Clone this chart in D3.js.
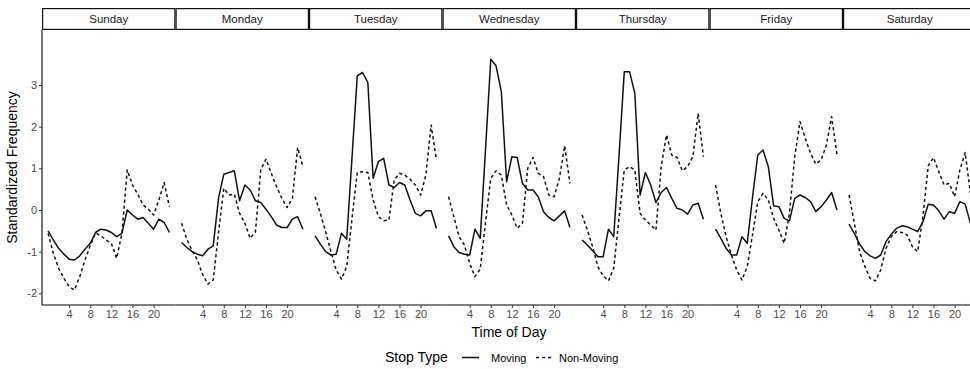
<!DOCTYPE html>
<html>
<head>
<meta charset="utf-8">
<script src="https://cdn.jsdelivr.net/npm/d3@7/dist/d3.min.js"></script>
<style>
  html, body { margin: 0; padding: 0; background: #fff; }
  svg { display: block; font-family: "Liberation Sans", Arial, Helvetica, sans-serif; }
</style>
</head>
<body>
<svg id="chart" width="970" height="369"></svg>
<script>
// ---- data ----
const days = ["Sunday", "Monday", "Tuesday", "Wednesday", "Thursday", "Friday", "Saturday"];
const hours = d3.range(0, 24);
const xTicks = [4, 8, 12, 16, 20];
const yTicks = [-2, -1, 0, 1, 2, 3];
const stopTypes = ["Moving", "Non-Moving"];

const sundayMoving    = [-0.5, -0.72, -0.92, -1.06, -1.18, -1.2, -1.1, -0.94, -0.8, -0.54, -0.46, -0.48, -0.54, -0.64, -0.56, 0.0, -0.12, -0.22, -0.18, -0.32, -0.46, -0.22, -0.3, -0.54];
const sundayNonMoving = [-0.56, -1.04, -1.4, -1.64, -1.84, -1.92, -1.6, -1.2, -0.85, -0.55, -0.62, -0.72, -0.8, -1.16, -0.56, 0.96, 0.6, 0.38, 0.12, 0.02, -0.12, 0.24, 0.66, 0.08];
const mondayMoving    = [-0.78, -0.9, -1.0, -1.06, -1.1, -0.94, -0.86, 0.28, 0.86, 0.9, 0.94, 0.22, 0.6, 0.48, 0.22, 0.18, 0.02, -0.16, -0.36, -0.42, -0.42, -0.22, -0.16, -0.46];
const mondayNonMoving = [-0.32, -0.7, -0.98, -1.2, -1.55, -1.78, -1.68, -0.55, 0.52, 0.36, 0.38, -0.08, -0.32, -0.68, -0.52, 0.96, 1.22, 0.88, 0.56, 0.28, 0.06, 0.28, 1.5, 1.04];
const tuesdayMoving    = [-0.62, -0.82, -1.0, -1.08, -1.06, -0.56, -0.7, 1.26, 3.22, 3.3, 3.06, 0.76, 1.16, 1.24, 0.6, 0.54, 0.66, 0.6, 0.24, -0.08, -0.14, -0.02, -0.02, -0.44];
const tuesdayNonMoving = [0.32, -0.08, -0.52, -1.0, -1.44, -1.66, -1.36, -0.2, 0.9, 0.92, 0.9, 0.24, -0.16, -0.26, -0.24, 0.72, 0.88, 0.84, 0.74, 0.6, 0.36, 0.84, 2.04, 1.2];
const wednesdayMoving    = [-0.62, -0.88, -1.02, -1.06, -1.08, -0.46, -0.68, 1.45, 3.62, 3.46, 2.84, 0.68, 1.28, 1.26, 0.64, 0.48, 0.48, 0.32, -0.04, -0.18, -0.26, -0.14, -0.02, -0.42];
const wednesdayNonMoving = [0.32, -0.16, -0.64, -0.84, -1.28, -1.6, -1.42, -0.3, 0.76, 0.94, 0.84, 0.12, -0.12, -0.44, -0.32, 1.0, 1.26, 0.88, 0.8, 0.36, 0.32, 0.76, 1.54, 0.64];
const thursdayMoving    = [-0.72, -0.84, -0.98, -1.12, -1.12, -0.46, -0.64, 1.3, 3.32, 3.32, 2.8, 0.36, 0.9, 0.6, 0.18, 0.42, 0.54, 0.28, 0.04, 0.0, -0.1, 0.12, 0.16, -0.22];
const thursdayNonMoving = [-0.12, -0.48, -0.88, -1.36, -1.58, -1.7, -1.4, -0.2, 0.96, 1.04, 0.96, -0.08, -0.24, -0.36, -0.48, 1.04, 1.8, 1.32, 1.26, 0.94, 1.04, 1.28, 2.32, 1.28];
const fridayMoving    = [-0.46, -0.68, -0.92, -1.08, -1.08, -0.64, -0.8, 0.3, 1.32, 1.44, 1.04, 0.1, 0.08, -0.2, -0.26, 0.28, 0.36, 0.3, 0.2, -0.04, 0.08, 0.24, 0.42, 0.0];
const fridayNonMoving = [0.6, -0.08, -0.64, -1.08, -1.44, -1.68, -1.36, -0.6, 0.2, 0.4, 0.24, -0.2, -0.48, -0.8, -0.08, 1.28, 2.12, 1.72, 1.36, 1.1, 1.2, 1.56, 2.24, 1.34];
const saturdayMoving    = [-0.34, -0.56, -0.82, -1.0, -1.1, -1.16, -1.08, -0.76, -0.58, -0.44, -0.38, -0.4, -0.46, -0.52, -0.28, 0.14, 0.12, -0.02, -0.22, -0.04, -0.08, 0.2, 0.14, -0.32];
const saturdayNonMoving = [0.36, -0.32, -1.0, -1.36, -1.64, -1.7, -1.44, -0.92, -0.64, -0.52, -0.54, -0.6, -0.88, -1.0, -0.16, 1.06, 1.26, 0.92, 0.6, 0.64, 0.32, 0.96, 1.38, 0.4];

const movingByDay = [sundayMoving, mondayMoving, tuesdayMoving, wednesdayMoving, thursdayMoving, fridayMoving, saturdayMoving];
const nonMovingByDay = [sundayNonMoving, mondayNonMoving, tuesdayNonMoving, wednesdayNonMoving, thursdayNonMoving, fridayNonMoving, saturdayNonMoving];

// ---- layout ----
const panelLeft = 42, panelW = 133.5, panelTop = 30, panelBottom = 305;
const stripTop = 8;
const svg = d3.select("#chart");

const y = d3.scaleLinear().domain([-2.28, 4.32]).range([panelBottom, panelTop]);
const dashFor = { "Moving": null, "Non-Moving": "3.2,2.8" };

days.forEach((day, i) => {
  const x0 = panelLeft + i * panelW;
  const x = d3.scaleLinear().domain([-1.15, 24.15]).range([x0, x0 + panelW]);
  const g = svg.append("g");

  // strip
  g.append("rect")
    .attr("x", x0 + 0.6).attr("y", stripTop + 0.6)
    .attr("width", panelW - 1.2).attr("height", panelTop - stripTop - 1.2)
    .attr("fill", "#fff").attr("stroke", "#111").attr("stroke-width", 1.2);
  g.append("text")
    .attr("x", x0 + panelW / 2).attr("y", (stripTop + panelTop) / 2)
    .attr("dy", "0.35em").attr("text-anchor", "middle")
    .attr("font-size", 11.5).attr("fill", "#1a1a1a").text(day);

  // bottom axis
  const xAxis = d3.axisBottom(x).tickValues(xTicks).tickFormat(d => String(d))
    .tickSize(3).tickPadding(2).tickSizeOuter(0);
  const ax = g.append("g").attr("transform", `translate(0,${panelBottom})`).call(xAxis);
  ax.select(".domain").attr("stroke", "#000").attr("stroke-width", 1.1)
    .attr("d", `M${x0},0H${x0 + panelW}`);
  ax.selectAll(".tick line").attr("stroke", "#333").attr("stroke-width", 1);
  ax.selectAll(".tick text").attr("font-size", 11).attr("fill", "#4d4d4d")
    .attr("font-family", "'Liberation Sans', Arial, sans-serif");

  // lines
  const series = [
    { type: "Moving", values: movingByDay[i] },
    { type: "Non-Moving", values: nonMovingByDay[i] }
  ];
  const line = d3.line().x((d, k) => x(hours[k])).y(d => y(d));
  series.forEach(s => {
    g.append("path")
      .attr("d", line(s.values))
      .attr("fill", "none")
      .attr("stroke", "#111")
      .attr("stroke-width", 1.5)
      .attr("stroke-linejoin", "round")
      .attr("stroke-dasharray", dashFor[s.type]);
  });
});

// y axis (left panel only)
const yAxis = d3.axisLeft(y).tickValues(yTicks).tickFormat(d => String(d))
  .tickSize(3).tickPadding(2).tickSizeOuter(0);
const ay = svg.append("g").attr("transform", `translate(${panelLeft},0)`).call(yAxis);
ay.select(".domain").attr("stroke", "#000").attr("stroke-width", 1.1)
  .attr("d", `M0,${panelTop}V${panelBottom}`);
ay.selectAll(".tick line").attr("stroke", "#333");
ay.selectAll(".tick text").attr("font-size", 11).attr("fill", "#4d4d4d")
  .attr("font-family", "'Liberation Sans', Arial, sans-serif");

// axis titles
svg.append("text")
  .attr("transform", `translate(17,${(panelTop + panelBottom) / 2}) rotate(-90)`)
  .attr("text-anchor", "middle").attr("font-size", 14).attr("fill", "#000")
  .text("Standardized Frequency");
svg.append("text")
  .attr("x", 509).attr("y", 337)
  .attr("text-anchor", "middle").attr("font-size", 14).attr("fill", "#000")
  .text("Time of Day");

// legend
const lg = svg.append("g");
lg.append("text").attr("x", 385).attr("y", 362).attr("font-size", 14).attr("fill", "#000").text("Stop Type");
const legendItems = [
  { type: stopTypes[0], kx: 462, tx: 491 },
  { type: stopTypes[1], kx: 536, tx: 559 }
];
legendItems.forEach(it => {
  lg.append("line")
    .attr("x1", it.kx).attr("x2", it.kx + 17)
    .attr("y1", 357.5).attr("y2", 357.5)
    .attr("stroke", "#111").attr("stroke-width", 1.5)
    .attr("stroke-dasharray", dashFor[it.type]);
  lg.append("text").attr("x", it.tx).attr("y", 361.5)
    .attr("font-size", 11).attr("fill", "#000").text(it.type);
});
</script>
</body>
</html>
